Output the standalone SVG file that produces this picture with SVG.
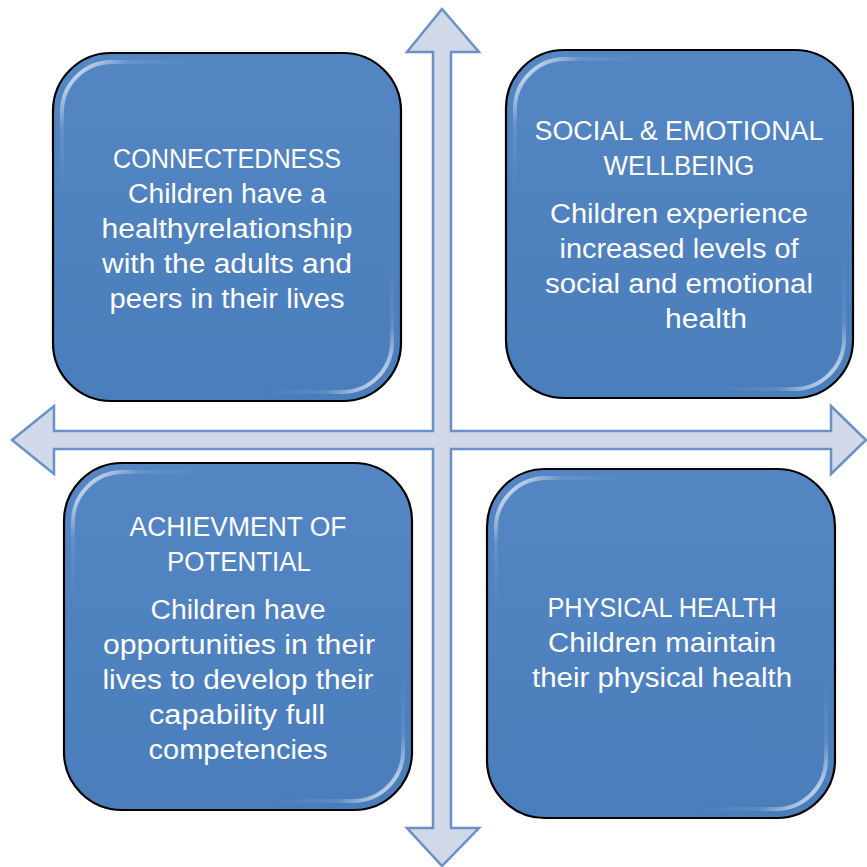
<svg xmlns="http://www.w3.org/2000/svg" width="867" height="867" viewBox="0 0 867 867">
<defs>
<linearGradient id="fillG" x1="0" y1="0" x2="0" y2="1">
<stop offset="0" stop-color="#5486C4"/>
<stop offset="1" stop-color="#4A7DBB"/>
</linearGradient>
<linearGradient id="gloss" x1="0" y1="0" x2="1" y2="1">
<stop offset="0" stop-color="#FFFFFF" stop-opacity="1"/>
<stop offset="0.1" stop-color="#FFFFFF" stop-opacity="0.1"/>
<stop offset="0.2" stop-color="#FFFFFF" stop-opacity="0"/>
<stop offset="0.8" stop-color="#FFFFFF" stop-opacity="0"/>
<stop offset="0.9" stop-color="#FFFFFF" stop-opacity="0.1"/>
<stop offset="1" stop-color="#FFFFFF" stop-opacity="1"/>
</linearGradient>
</defs>
<style>
.box{fill:url(#fillG);stroke:#000;stroke-width:2.2}
.gl{fill:none;stroke:url(#gloss);stroke-width:4}
.t{font-family:"Liberation Sans",Arial,sans-serif;font-size:27px;fill:#FFFFFF;text-anchor:middle}
.cross{fill:#D1D9E8;stroke:#6990C8;stroke-width:2.5;stroke-linejoin:miter}
</style>
<g id="connectors">
<polygon class="cross" points="442,9 479,52 451,52 451,431 831,431 831,406 866,440 831,474 831,449 451,449 451,828 479,828 442,866 407,828 433,828 433,449 54,449 54,474 12,440 54,406 54,431 433,431 433,52 407,52"/>
</g>
<g id="connectedness">
<rect class="box" x="53" y="53" width="348" height="348" rx="58"/>
<rect class="gl" x="62" y="62" width="330" height="330" rx="50"/>
<text class="t" x="227" y="168" textLength="228" lengthAdjust="spacingAndGlyphs">CONNECTEDNESS</text>
<text class="t" x="227" y="203" textLength="198" lengthAdjust="spacingAndGlyphs">Children have a</text>
<text class="t" x="227" y="238" textLength="251" lengthAdjust="spacingAndGlyphs">healthyrelationship</text>
<text class="t" x="227" y="273" textLength="250" lengthAdjust="spacingAndGlyphs">with the adults and</text>
<text class="t" x="227" y="308" textLength="235" lengthAdjust="spacingAndGlyphs">peers in their lives</text>
</g>
<g id="social">
<rect class="box" x="506" y="50" width="347" height="348" rx="58"/>
<rect class="gl" x="515" y="59" width="329" height="330" rx="50"/>
<text class="t" x="679" y="140" textLength="289" lengthAdjust="spacingAndGlyphs">SOCIAL &amp; EMOTIONAL</text>
<text class="t" x="679" y="175" textLength="151" lengthAdjust="spacingAndGlyphs">WELLBEING</text>
<text class="t" x="679" y="223" textLength="258" lengthAdjust="spacingAndGlyphs">Children experience</text>
<text class="t" x="679" y="258" textLength="239" lengthAdjust="spacingAndGlyphs">increased levels of</text>
<text class="t" x="679" y="293" textLength="268" lengthAdjust="spacingAndGlyphs">social and emotional</text>
<text class="t" x="706" y="328" textLength="82" lengthAdjust="spacingAndGlyphs">health</text>
</g>
<g id="achievement">
<rect class="box" x="64" y="463" width="348" height="347" rx="58"/>
<rect class="gl" x="73" y="472" width="330" height="329" rx="50"/>
<text class="t" x="238" y="536" textLength="217" lengthAdjust="spacingAndGlyphs">ACHIEVMENT OF</text>
<text class="t" x="239" y="571" textLength="144" lengthAdjust="spacingAndGlyphs">POTENTIAL</text>
<text class="t" x="238" y="619" textLength="175" lengthAdjust="spacingAndGlyphs">Children have</text>
<text class="t" x="239" y="654" textLength="272" lengthAdjust="spacingAndGlyphs">opportunities in their</text>
<text class="t" x="238" y="689" textLength="271" lengthAdjust="spacingAndGlyphs">lives to develop their</text>
<text class="t" x="237" y="724" textLength="176" lengthAdjust="spacingAndGlyphs">capability full</text>
<text class="t" x="238" y="759" textLength="179" lengthAdjust="spacingAndGlyphs">competencies</text>
</g>
<g id="physical">
<rect class="box" x="487" y="469" width="348" height="349" rx="58"/>
<rect class="gl" x="496" y="478" width="330" height="331" rx="50"/>
<text class="t" x="662" y="617" textLength="229" lengthAdjust="spacingAndGlyphs">PHYSICAL HEALTH</text>
<text class="t" x="662" y="652" textLength="228" lengthAdjust="spacingAndGlyphs">Children maintain</text>
<text class="t" x="662" y="687" textLength="260" lengthAdjust="spacingAndGlyphs">their physical health</text>
</g>
</svg>
